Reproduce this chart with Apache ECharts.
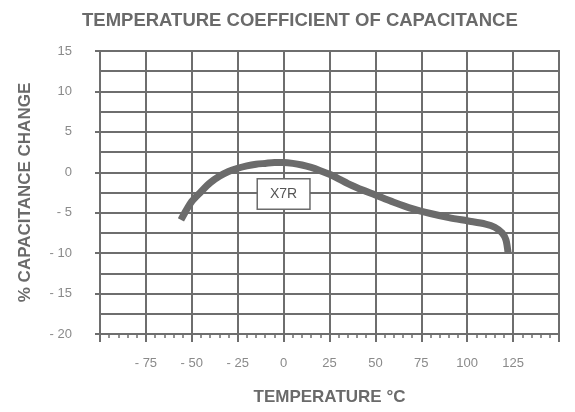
<!DOCTYPE html>
<html>
<head>
<meta charset="UTF-8" />
<title>Temperature coefficient of capacitance</title>
<script src="https://cdn.jsdelivr.net/npm/echarts@6/dist/echarts.min.js"></script>
<style>
  html, body { margin: 0; padding: 0; background: #fff; }
</style>
</head>
<body>
<div id="main" style="width: 575px;height:412px;"></div>
<script type="text/javascript">

    // temperature (deg C)
    var tempC = [-55, -50, -45, -40, -35, -30, -25, -20, -15, -10, -5, 0, 5, 10, 15, 20, 25, 30, 35, 40,
                 50, 60, 70, 80, 90, 100, 110, 115, 119, 121, 122];
    // % capacitance change, X7R
    var capChange = [-5.5, -3.6, -2.4, -1.3, -0.5, 0.1, 0.5, 0.8, 1.0, 1.1, 1.2, 1.2, 1.1, 0.9, 0.6, 0.2, -0.25, -0.8, -1.4, -1.9,
                     -2.8, -3.7, -4.5, -5.1, -5.6, -6.0, -6.4, -6.8, -7.5, -8.3, -9.5];

    var xTicks = [-100, 150, 25];   // min, max, step
    var yTicks = [-20, 15, 5];

    var gridColor = '#6e6e6e';
    var textColor = '#8a8a8a';
    var fontName = 'Liberation Sans, Arial, sans-serif';

    function negLabel(v) {
        if (v < 0) return '- ' + Math.abs(v);
        return '' + v;
    }

    var lineData = [];
    for (var i = 0; i < tempC.length; i++) {
        lineData.push([tempC[i], capChange[i]]);
    }

    var myChart = echarts.init(document.getElementById('main'));

    var option = {
        animation: false,
        title: {
            text: 'TEMPERATURE COEFFICIENT OF CAPACITANCE',
            left: 77,
            top: 6,
            textStyle: { fontFamily: fontName, fontSize: 18.5, fontWeight: 'bold', color: '#6a6a6a' }
        },
        grid: {
            left: 100, right: 16, top: 51, bottom: 78,
            show: true, borderColor: gridColor, borderWidth: 2
        },
        xAxis: [{
            type: 'value',
            min: xTicks[0], max: xTicks[1], interval: xTicks[2],
            name: 'TEMPERATURE °C',
            nameLocation: 'middle',
            nameGap: 55,
            nameTextStyle: { fontFamily: fontName, fontSize: 17, fontWeight: 'bold', color: '#6a6a6a' },
            axisLine: { show: true, onZero: false, lineStyle: { color: gridColor, width: 2 } },
            axisTick: { show: true, inside: false, length: 8, lineStyle: { color: gridColor, width: 2 } },
            minorTick: { show: true, splitNumber: 5, length: 4, lineStyle: { color: gridColor, width: 1.5 } },
            axisLabel: {
                fontFamily: fontName, fontSize: 13, color: textColor, margin: 23,
                formatter: function (v) {
                    if (v <= -100 || v >= 150) return '';
                    return negLabel(v);
                }
            },
            splitLine: { show: true, lineStyle: { color: gridColor, width: 2 } }
        }, {
            type: 'value',
            position: 'bottom',
            min: xTicks[0], max: xTicks[1], interval: xTicks[2],
            axisLine: { show: false, onZero: false },
            axisTick: { show: false },
            minorTick: { show: true, splitNumber: 5, length: 4, lineStyle: { color: gridColor, width: 1.5 } },
            axisLabel: { show: false },
            splitLine: { show: false }
        }],
        yAxis: {
            type: 'value',
            min: yTicks[0], max: yTicks[1], interval: yTicks[2],
            name: '% CAPACITANCE CHANGE',
            nameLocation: 'middle',
            nameGap: 66,
            nameTextStyle: { fontFamily: fontName, fontSize: 17, fontWeight: 'bold', color: '#6a6a6a' },
            axisLine: { show: true, onZero: false, lineStyle: { color: gridColor, width: 2 } },
            axisTick: { show: true, length: 5, lineStyle: { color: gridColor, width: 2 } },
            minorTick: { show: false, splitNumber: 2 },
            minorSplitLine: { show: true, lineStyle: { color: gridColor, width: 2 } },
            axisLabel: { fontFamily: fontName, fontSize: 13, color: textColor, margin: 28, formatter: negLabel },
            splitLine: { show: true, lineStyle: { color: gridColor, width: 2 } }
        },
        series: [{
            name: 'X7R',
            type: 'line',
            data: lineData,
            smooth: 0.3,
            showSymbol: false,
            lineStyle: { color: '#6b6b6b', width: 7, cap: 'square' },
            markPoint: {
                symbol: 'rect',
                symbolSize: 1,
                itemStyle: { color: 'rgba(0,0,0,0)' },
                label: {
                    show: true,
                    formatter: 'X7R',
                    fontFamily: fontName,
                    fontSize: 14,
                    color: '#555',
                    backgroundColor: '#fff',
                    borderColor: '#6b6b6b',
                    borderWidth: 1.5,
                    padding: [8, 12, 7, 12],
                    position: 'inside'
                },
                data: [{ coord: [0, -2.7] }]
            }
        }]
    };

    myChart.setOption(option);
</script>
</body>
</html>
